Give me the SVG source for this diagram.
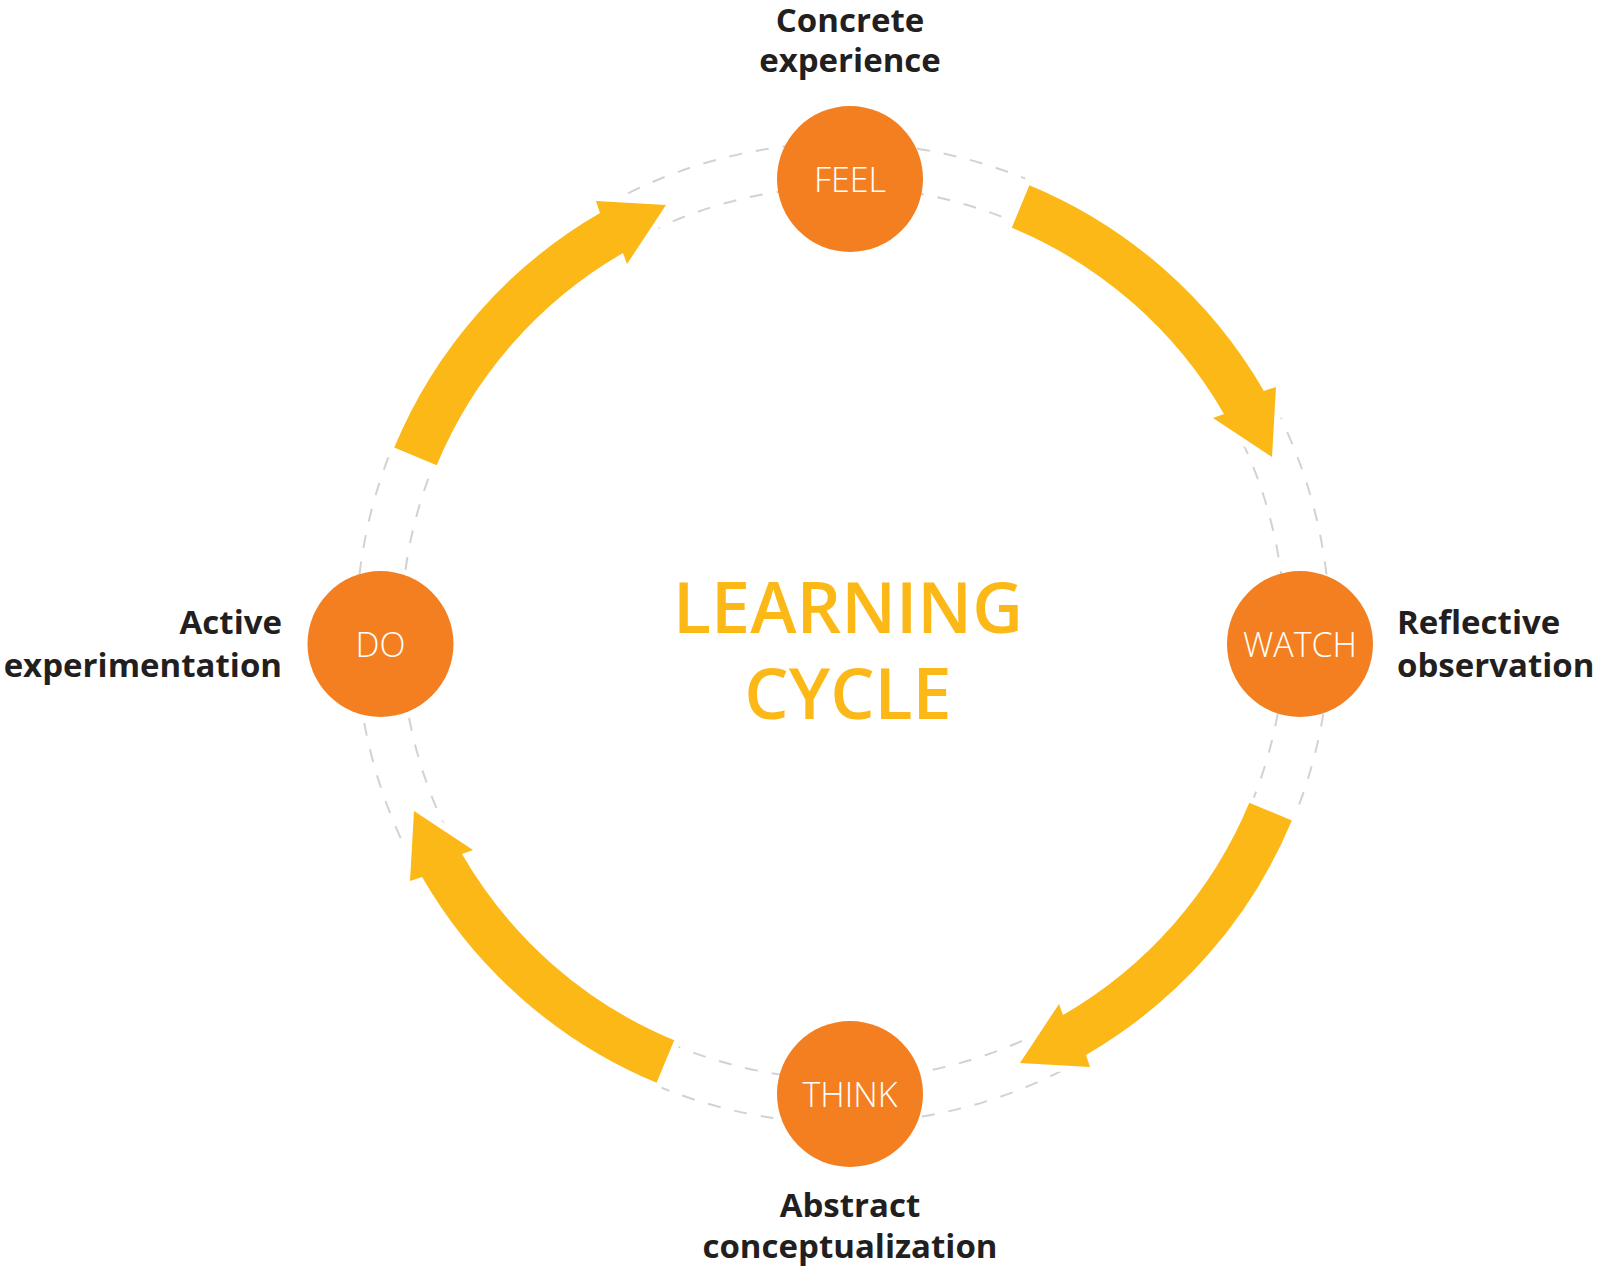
<svg xmlns="http://www.w3.org/2000/svg" xmlns:xlink="http://www.w3.org/1999/xlink" width="1600" height="1271" viewBox="0 0 1600 1271">
  <style>
    .ring { fill: none; stroke: #D2D2D2; stroke-width: 2; stroke-dasharray: 13 14; }
    .arrow { fill: #FBB817; stroke: #FFFFFF; stroke-width: 13; stroke-linejoin: miter; paint-order: stroke; }
    .node { fill: #F37F21; }
    .nodetxt { font-family: "Open Sans", "Liberation Sans", sans-serif; font-weight: 300; font-size: 34px; fill: #FFFFFF; text-anchor: middle; }
    .lbl { font-family: "Open Sans", "Liberation Sans", sans-serif; font-weight: 700; font-size: 33px; fill: #231F20; }
    .title { font-family: "Open Sans", "Liberation Sans", sans-serif; font-weight: 600; font-size: 70px; fill: #FBB817; text-anchor: middle; }
  </style>
  <defs>
    <path id="arrowShape" class="arrow" d="M1029.4,185.2 A486,486 0 0 1 1263.9,391 L1276,387 L1272,457 L1213,418 L1224,414 A440,440 0 0 0 1011.8,227.7 Z"/>
  </defs>
  <rect width="1600" height="1271" fill="#FFFFFF"/>
  <g id="rings">
    <ellipse class="ring" cx="843" cy="633" rx="487" ry="490"/>
    <ellipse class="ring" cx="843" cy="633" rx="442" ry="446"/>
  </g>
  <g id="connectors">
    <use xlink:href="#arrowShape" href="#arrowShape"/>
    <use xlink:href="#arrowShape" href="#arrowShape" transform="rotate(90 843 634)"/>
    <use xlink:href="#arrowShape" href="#arrowShape" transform="rotate(180 843 634)"/>
    <use xlink:href="#arrowShape" href="#arrowShape" transform="rotate(270 843 634)"/>
  </g>
  <g id="title">
    <text class="title" x="848" y="633">LEARNING</text>
    <text class="title" x="848" y="719">CYCLE</text>
  </g>
  <g id="node-feel">
    <circle class="node" cx="850" cy="179" r="73"/>
    <text class="nodetxt" x="850" y="192">FEEL</text>
    <text class="lbl" x="850" y="32" text-anchor="middle">Concrete</text>
    <text class="lbl" x="850" y="72" text-anchor="middle">experience</text>
  </g>
  <g id="node-watch">
    <circle class="node" cx="1300" cy="644" r="73"/>
    <text class="nodetxt" x="1300" y="657">WATCH</text>
    <text class="lbl" x="1397" y="634">Reflective</text>
    <text class="lbl" x="1397" y="677">observation</text>
  </g>
  <g id="node-think">
    <circle class="node" cx="850" cy="1094" r="73"/>
    <text class="nodetxt" x="850" y="1107">THINK</text>
    <text class="lbl" x="850" y="1217" text-anchor="middle">Abstract</text>
    <text class="lbl" x="850" y="1258" text-anchor="middle">conceptualization</text>
  </g>
  <g id="node-do">
    <circle class="node" cx="380.5" cy="644" r="73"/>
    <text class="nodetxt" x="380.5" y="657">DO</text>
    <text class="lbl" x="282" y="634" text-anchor="end">Active</text>
    <text class="lbl" x="282" y="677" text-anchor="end">experimentation</text>
  </g>
</svg>
